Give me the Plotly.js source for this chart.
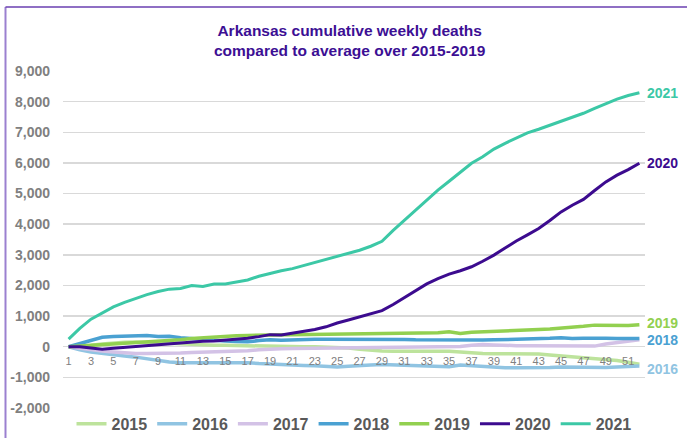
<!DOCTYPE html>
<html>
<head>
<meta charset="utf-8">
<script src="https://cdn.plot.ly/plotly-3.0.1.min.js"></script>
<style>html,body{margin:0;padding:0;background:#fff;}#chart{width:687px;height:438px;}</style>
</head>
<body>
<div id="chart"></div>
<script>
const weeks = Array.from({length: 52}, (_, i) => i + 1);
const xTickVals = [1,3,5,7,9,11,13,15,17,19,21,23,25,27,29,31,33,35,37,39,41,43,45,47,49,51];
const yTickVals = [-2000,-1000,0,1000,2000,3000,4000,5000,6000,7000,8000,9000];
const yTickText = ["-2,000","-1,000","0","1,000","2,000","3,000","4,000","5,000","6,000","7,000","8,000","9,000"];

const seriesNames = ["2015","2016","2017","2018","2019","2020","2021"];

const y2015 = [0,20,50,90,130,145,155,150,135,115,100,75,55,50,45,35,25,20,15,10,5,0,0,-10,-20,-40,-80,-120,-140,-150,-150,-140,-130,-140,-150,-170,-200,-220,-230,-230,-230,-230,-235,-270,-300,-320,-340,-370,-400,-450,-510,-570];
const y2016 = [0,-100,-170,-220,-260,-300,-340,-390,-440,-500,-520,-520,-520,-520,-520,-515,-520,-550,-570,-590,-600,-610,-620,-640,-660,-640,-630,-600,-580,-590,-600,-610,-620,-630,-650,-600,-620,-650,-680,-690,-690,-690,-700,-680,-660,-670,-680,-680,-680,-660,-640,-630];
const y2017 = [0,-50,-100,-140,-170,-200,-220,-225,-225,-215,-205,-190,-180,-170,-160,-145,-130,-100,-70,-65,-60,-55,-50,-35,-25,-30,-35,-20,-10,0,5,0,-5,0,5,10,50,70,60,40,35,30,25,20,15,10,10,20,90,140,180,225];
const y2018 = [0,100,210,310,330,350,370,365,335,340,290,260,235,210,190,170,160,200,230,215,230,240,240,245,245,245,240,250,255,240,235,225,220,230,215,220,215,220,225,230,235,245,255,275,295,270,275,290,280,270,265,265];
const y2019 = [0,20,50,75,100,120,145,160,175,200,230,265,295,320,340,360,370,375,380,385,390,395,405,420,430,430,430,430,425,430,435,440,450,460,490,430,470,490,510,520,535,550,565,575,600,630,665,705,700,680,690,720];
const y2020 = [0,0,-40,-85,-50,-20,15,40,70,100,135,160,175,190,210,240,275,330,395,385,450,500,560,650,775,870,970,1060,1180,1380,1600,1820,2050,2220,2370,2480,2610,2790,2990,3220,3450,3650,3860,4120,4400,4620,4810,5100,5380,5600,5780,5990];
const y2021 = [250,600,900,1100,1300,1450,1580,1700,1800,1880,1900,2000,1970,2050,2050,2120,2180,2300,2400,2480,2550,2650,2750,2850,2950,3050,3150,3280,3440,3800,4130,4450,4780,5110,5400,5700,5990,6200,6450,6640,6820,6980,7100,7230,7350,7480,7620,7780,7930,8080,8200,8290];

const seriesValues = [y2015, y2016, y2017, y2018, y2019, y2020, y2021];
const colors = ["#bde39c","#90c4e2","#d3c2e6","#4aa1d2","#92d050","#3c0b8f","#3cc8a6"];
const widths = [3.5, 3.5, 3.5, 3.5, 3.5, 3, 3];
const endLabelSeries = ["2021","2020","2019","2018","2016"];
const endLabelShift = {"2021": 0, "2020": 0, "2019": 2, "2018": -1, "2016": -3};

const font = "Liberation Sans, Arial, sans-serif";

const traces = seriesNames.map((name, i) => ({
  type: "scatter",
  mode: "lines",
  name: name,
  x: weeks,
  y: seriesValues[i],
  line: {color: colors[i], width: widths[i]},
  hoverinfo: "x+y+name"
}));

const annotations = endLabelSeries.map(name => {
  const i = seriesNames.indexOf(name);
  const vals = seriesValues[i];
  return {
    x: weeks[weeks.length - 1],
    y: vals[vals.length - 1],
    xref: "x", yref: "y",
    text: name,
    showarrow: false,
    xanchor: "left",
    yanchor: "middle",
    xshift: 6,
    yshift: endLabelShift[name],
    font: {family: font, size: 14, color: colors[i], weight: "bold"}
  };
});

const layout = {
  width: 687,
  height: 438,
  margin: {l: 63, r: 42, t: 71, b: 30, autoexpand: false},
  paper_bgcolor: "#ffffff",
  plot_bgcolor: "#ffffff",
  font: {family: font},
  title: {
    text: "Arkansas cumulative weekly deaths<br>compared to average over 2015-2019",
    font: {family: font, size: 15.5, color: "#3c0f94", weight: "bold"},
    xref: "container", x: 0.509, xanchor: "center",
    yref: "container", y: 0.918, yanchor: "middle"
  },
  xaxis: {
    range: [0.5, 52.5],
    tickmode: "array",
    tickvals: xTickVals,
    ticktext: xTickVals.map(String),
    showgrid: false,
    zeroline: false,
    showline: false,
    ticks: "",
    anchor: "free",
    position: 2000 / 11000,
    tickfont: {family: font, size: 11, color: "#808080"},
    ticklabelstandoff: 6,
    fixedrange: true
  },
  yaxis: {
    range: [-2000, 9000],
    tickmode: "array",
    tickvals: yTickVals,
    ticktext: yTickText,
    showgrid: true,
    gridcolor: "#d9d9d9",
    gridwidth: 1.5,
    zeroline: false,
    showline: false,
    ticks: "",
    tickfont: {family: font, size: 14, color: "#808080", weight: "bold"},
    ticklabelstandoff: 12,
    fixedrange: true
  },
  showlegend: true,
  legend: {
    orientation: "h",
    x: 0.5, xanchor: "center",
    y: -0.047, yanchor: "middle",
    font: {family: font, size: 16, color: "#595959", weight: "bold"},
    itemwidth: 30,
    traceorder: "normal"
  },
  annotations: annotations,
  shapes: [
    {type: "line", xref: "paper", yref: "paper", x0: -0.0988, x1: -0.0988, y0: 1.19, y1: -0.2, line: {color: "#9b80d0", width: 2}},
    {type: "line", xref: "paper", yref: "paper", x0: -0.0988, x1: 1.2, y0: 1.19, y1: 1.19, line: {color: "#6a3fb0", width: 1.5}}
  ]
};

Plotly.newPlot("chart", traces, layout, {displayModeBar: false, staticPlot: true});
</script>
</body>
</html>
